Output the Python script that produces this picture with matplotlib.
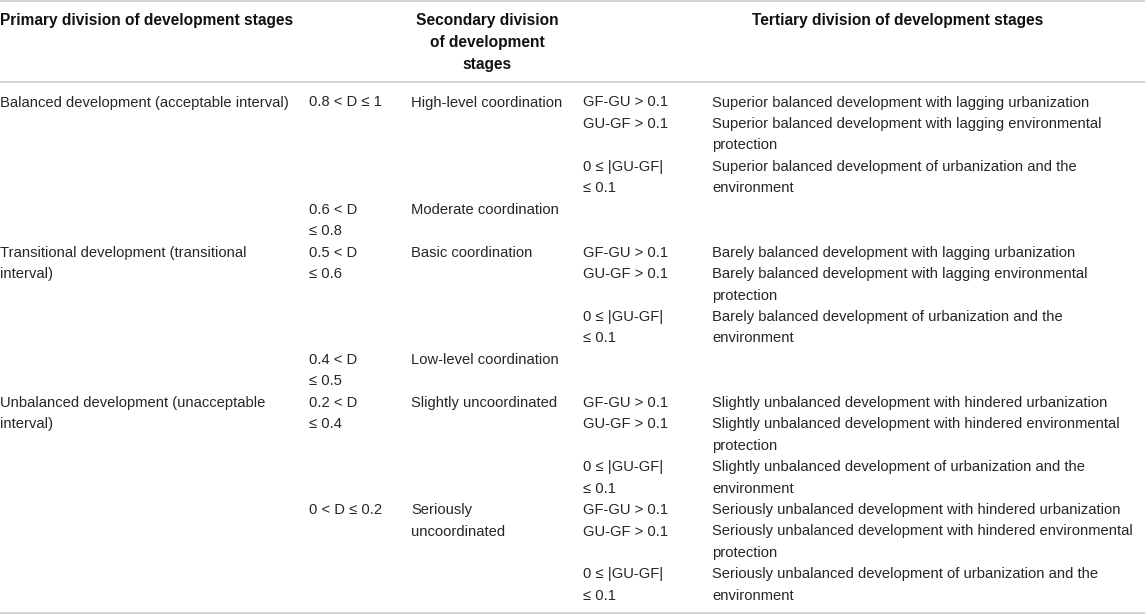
import matplotlib
matplotlib.use("Agg")
import matplotlib.pyplot as plt

# ---- table content ----
header_primary = "Primary division of development stages"
header_secondary = ["Secondary division", "of development", "stages"]
header_tertiary = "Tertiary division of development stages"

primary = [
    ["Balanced development (acceptable interval)"],
    ["Transitional development (transitional", "interval)"],
    ["Unbalanced development (unacceptable", "interval)"],
]
primary_rows = [0, 7, 14]

d_ranges = [
    ["0.8 < D ≤ 1"],
    ["0.6 < D", "≤ 0.8"],
    ["0.5 < D", "≤ 0.6"],
    ["0.4 < D", "≤ 0.5"],
    ["0.2 < D", "≤ 0.4"],
    ["0 < D ≤ 0.2"],
]
secondary = [
    ["High-level coordination"],
    ["Moderate coordination"],
    ["Basic coordination"],
    ["Low-level coordination"],
    ["Slightly uncoordinated"],
    ["Seriously", "uncoordinated"],
]
d_rows = [0, 5, 7, 12, 14, 19]

conditions = [["GF-GU > 0.1"], ["GU-GF > 0.1"], ["0 ≤ |GU-GF|", "≤ 0.1"]]
condition_offsets = [0, 1, 3]
tertiary_rows = [0, 7, 14, 19]
tertiary = [
    [["Superior balanced development with lagging urbanization"],
     ["Superior balanced development with lagging environmental", "protection"],
     ["Superior balanced development of urbanization and the", "environment"]],
    [["Barely balanced development with lagging urbanization"],
     ["Barely balanced development with lagging environmental", "protection"],
     ["Barely balanced development of urbanization and the", "environment"]],
    [["Slightly unbalanced development with hindered urbanization"],
     ["Slightly unbalanced development with hindered environmental", "protection"],
     ["Slightly unbalanced development of urbanization and the", "environment"]],
    [["Seriously unbalanced development with hindered urbanization"],
     ["Seriously unbalanced development with hindered environmental", "protection"],
     ["Seriously unbalanced development of urbanization and the", "environment"]],
]

# ---- layout ----
W, H = 1145, 615
fig = plt.figure(figsize=(W / 100, H / 100), dpi=100)
ax = fig.add_axes([0, 0, 1, 1])
ax.set_xlim(0, W)
ax.set_ylim(H, 0)
ax.axis("off")

FAM = ["Liberation Sans", "DejaVu Sans"]
BODY = 10.6
HEAD = 11.2
TXT = "#262626"
LINE = "#d4d4d4"

col_x = [0, 309, 411, 583, 712]
row0 = 102.5
row_h = 21.45
head_y = [21, 42.5, 64]


def ry(i):
    return row0 + row_h * i


def put(x, start_row, lines):
    for k, t in enumerate(lines):
        ax.text(x, ry(start_row + k), t, ha="left", va="center",
                fontsize=BODY, family=FAM, color=TXT)


# header
ax.text(0, head_y[0], header_primary, ha="left", va="center",
        fontsize=HEAD, fontweight="bold", family=FAM, color="#111111")
for k, t in enumerate(header_secondary):
    ax.text(487, head_y[k], t, ha="center", va="center",
            fontsize=HEAD, fontweight="bold", family=FAM, color="#111111")
ax.text(898, head_y[0], header_tertiary, ha="center", va="center",
        fontsize=HEAD, fontweight="bold", family=FAM, color="#111111")

# rules
for y in (1, 82, 613):
    ax.plot([0, W], [y, y], color=LINE, lw=1.4, solid_capstyle="butt")

# body
for lines, r in zip(primary, primary_rows):
    put(col_x[0], r, lines)
for lines, r in zip(d_ranges, d_rows):
    put(col_x[1], r, lines)
for lines, r in zip(secondary, d_rows):
    put(col_x[2], r, lines)
for g, r in zip(tertiary, tertiary_rows):
    for cond, off, desc in zip(conditions, condition_offsets, g):
        put(col_x[3], r + off, cond)
        put(col_x[4], r + off, desc)

fig.savefig("out.png", dpi=100)
